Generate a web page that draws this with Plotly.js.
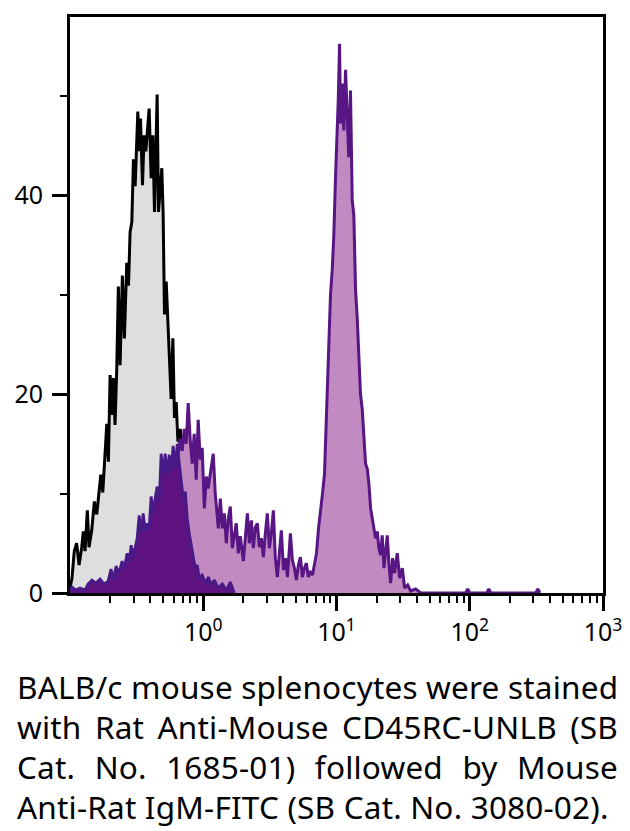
<!DOCTYPE html>
<html>
<head>
<meta charset="utf-8">
<script src="https://cdn.plot.ly/plotly-3.0.1.min.js"></script>
<style>
  html, body { margin: 0; padding: 0; background: #fff; }
  #wrap { position: relative; width: 630px; height: 831px; overflow: hidden; }
  #chart { position: absolute; left: 0; top: 0; width: 630px; height: 660px; }
  #caption { position: absolute; left: 17px; top: 667px; width: 601px;
    font-family: "Noto Sans", "Open Sans", sans-serif; font-size: 31.5px; line-height: 40px; color: #000; letter-spacing: 0.2px; }
  #caption div { white-space: nowrap; }
  #caption .j { text-align: justify; text-align-last: justify; }
</style>
</head>
<body>
<div id="wrap">
  <div id="chart"></div>
  <div id="caption">
    <div class="j">BALB/c mouse splenocytes were stained</div>
    <div class="j">with Rat Anti-Mouse CD45RC-UNLB (SB</div>
    <div class="j">Cat. No. 1685-01) followed by Mouse</div>
    <div>Anti-Rat IgM-FITC (SB Cat. No. 3080-02).</div>
  </div>
</div>
<script>
// Control (unstained) histogram: log10 intensity and counts
const greyLogX = [-1.000,-0.985,-0.968,-0.950,-0.932,-0.912,-0.900,-0.887,-0.870,-0.857,-0.837,-0.817,-0.799,-0.787,-0.769,-0.754,-0.737,-0.724,-0.712,-0.699,-0.686,-0.674,-0.662,-0.649,-0.637,-0.624,-0.607,-0.592,-0.574,-0.561,-0.549,-0.536,-0.524,-0.511,-0.491,-0.481,-0.471,-0.456,-0.444,-0.431,-0.416,-0.406,-0.391,-0.378,-0.366,-0.356,-0.346,-0.336,-0.323,-0.311,-0.301,-0.291,-0.278,-0.266,-0.253,-0.241,-0.228,-0.216,-0.203,-0.190,-0.173,-0.158,-0.135,-0.113,-0.090,-0.060,-0.023,0.023,0.068,0.113];
const greyCount = [0.5,1.5,4.2,5.0,2.8,4.6,6.2,4.2,8.3,4.6,6.3,9.2,7.9,9.6,11.9,10.1,13.5,17.0,13.2,21.9,17.9,21.6,16.9,22.6,30.8,22.9,31.9,25.6,33.2,30.9,36.3,37.3,43.6,40.9,48.4,44.4,47.7,41.0,46.0,44.4,47.0,48.7,41.7,46.0,38.3,43.0,50.1,38.3,41.0,42.7,38.0,28.0,31.3,27.6,22.6,19.5,25.6,17.6,19.2,15.2,16.5,14.5,12.0,9.0,6.0,4.0,2.0,0.8,0.2,0];

// CD45RC stained sample: log10 intensity and counts
const stainLogX = [-1.000,-0.925,-0.850,-0.774,-0.699,-0.624,-0.549,-0.474,-0.398,-0.338,-0.286,-0.248,-0.211,-0.188,-0.173,-0.158,-0.143,-0.128,-0.113,-0.098,-0.083,-0.068,-0.053,-0.038,-0.023,-0.008,0.008,0.023,0.038,0.053,0.075,0.090,0.113,0.128,0.143,0.158,0.173,0.188,0.203,0.218,0.233,0.248,0.263,0.278,0.301,0.316,0.331,0.346,0.361,0.376,0.391,0.406,0.421,0.436,0.451,0.466,0.481,0.496,0.511,0.526,0.541,0.556,0.571,0.586,0.602,0.617,0.632,0.647,0.654,0.669,0.684,0.699,0.714,0.729,0.744,0.759,0.774,0.789,0.805,0.820,0.835,0.850,0.865,0.880,0.895,0.910,0.921,0.932,0.944,0.955,0.968,0.980,0.992,1.005,1.013,1.023,1.030,1.043,1.055,1.068,1.080,1.092,1.105,1.118,1.130,1.143,1.156,1.168,1.180,1.193,1.205,1.218,1.231,1.243,1.256,1.268,1.280,1.293,1.306,1.318,1.331,1.343,1.356,1.368,1.381,1.393,1.406,1.421,1.436,1.456,1.474,1.494,1.511,1.534,1.556,1.594,1.632,1.970,1.985,2.000,2.128,2.143,2.158,2.496,2.511,2.526];
const stainCount = [0.2,0.3,0.2,0.5,0.8,1.2,2.0,3.5,5.5,8.0,10.0,11.0,12.0,14.0,15.5,14.3,16.5,15.0,19.1,15.4,13.0,16.0,11.4,17.4,13.4,14.6,8.5,11.7,10.5,12.0,14.0,10.0,6.5,9.5,6.5,8.0,5.0,7.5,8.7,4.5,6.0,7.0,4.0,5.7,3.2,6.0,8.0,5.0,7.3,4.5,6.6,7.0,4.6,5.5,3.6,6.0,8.0,4.5,6.0,8.3,3.5,1.6,4.5,6.3,2.3,3.5,1.6,4.5,6.0,3.3,2.5,1.3,2.8,3.6,1.6,2.5,3.0,1.6,2.2,1.8,3.0,4.0,6.5,8.0,10.0,12.0,16.5,20.0,26.0,30.0,32.5,36.0,41.5,45.5,49.5,55.2,47.2,51.2,46.5,52.6,48.0,43.8,50.5,39.5,38.0,30.5,27.5,24.0,20.0,18.5,15.5,13.0,12.5,11.0,8.5,7.5,6.8,5.5,6.2,4.5,3.8,5.8,2.5,4.5,5.8,3.0,1.0,3.5,2.0,4.0,1.5,2.5,0.5,0.8,0.2,0.4,0,0,0.4,0,0,0.4,0,0,0.4,0];

// Negative (CD45RC-low) population: log10 intensity and counts
const negLogX = [-1.000,-0.985,-0.955,-0.925,-0.887,-0.865,-0.835,-0.805,-0.774,-0.744,-0.714,-0.692,-0.677,-0.654,-0.632,-0.609,-0.594,-0.571,-0.556,-0.541,-0.526,-0.511,-0.496,-0.481,-0.466,-0.451,-0.436,-0.421,-0.406,-0.391,-0.376,-0.361,-0.346,-0.331,-0.316,-0.301,-0.286,-0.271,-0.256,-0.241,-0.226,-0.211,-0.195,-0.180,-0.165,-0.150,-0.135,-0.120,-0.105,-0.090,-0.075,-0.060,-0.045,-0.030,-0.008,0.015,0.038,0.060,0.083,0.113,0.143,0.173,0.203,0.233];
const negCount = [0.3,0.6,0.3,0.5,0.3,0.9,1.3,1.0,1.4,0.9,1.2,2.4,1.3,2.7,2.0,3.2,2.4,4.0,3.1,4.8,3.7,4.6,5.5,7.8,6.0,8.0,6.3,7.0,6.5,9.7,8.0,9.5,10.7,9.0,14.0,12.0,14.0,11.8,13.9,12.2,14.8,12.6,15.0,13.0,11.0,9.5,10.2,7.5,6.0,4.8,3.5,2.5,2.8,1.5,1.8,1.0,1.6,0.8,1.3,0.5,0.9,0.3,1.1,0];

const majorTickVals = [1, 10, 100, 1000];
const majorTickText = ['10<sup>0</sup>', '10<sup>1</sup>', '10<sup>2</sup>', '10<sup>3</sup>'];
const minorTickVals = [0.2,0.3,0.4,0.5,0.6,0.7,0.8,0.9,2,3,4,5,6,7,8,9,20,30,40,50,60,70,80,90,200,300,400,500,600,700,800,900];
const yTickVals = [0, 20, 40];
const yMinorVals = [10, 30, 50];

const toLin = arr => arr.map(l => Math.pow(10, l));

const traces = [
  { x: toLin(greyLogX), y: greyCount, type: 'scatter', mode: 'lines', fill: 'tozeroy',
    fillcolor: '#dedede', line: { color: '#000000', width: 3 }, hoverinfo: 'skip' },
  { x: toLin(stainLogX), y: stainCount, type: 'scatter', mode: 'lines', fill: 'tozeroy',
    fillcolor: '#c18bc1', line: { color: '#581584', width: 3 }, hoverinfo: 'skip' },
  { x: toLin(negLogX), y: negCount, type: 'scatter', mode: 'lines', fill: 'tozeroy',
    fillcolor: '#5f1380', line: { color: '#471a88', width: 2.8 }, hoverinfo: 'skip' }
];

const tickFont = { family: 'Noto Sans, Open Sans, sans-serif', size: 25, color: '#000' };

const layout = {
  width: 630, height: 660,
  margin: { l: 70, r: 27, t: 17, b: 67 },
  paper_bgcolor: '#fff', plot_bgcolor: '#fff',
  showlegend: false,
  xaxis: {
    type: 'log', range: [-1, 3], showgrid: false, zeroline: false,
    showline: true, linecolor: '#000', linewidth: 3, mirror: true,
    ticks: 'outside', ticklen: 15, tickwidth: 3, tickcolor: '#000',
    tickmode: 'array', tickvals: majorTickVals, ticktext: majorTickText,
    tickfont: tickFont, ticklabelstandoff: 0,
    minor: { tickmode: 'array', tickvals: minorTickVals, ticks: 'outside', ticklen: 7, tickwidth: 2, tickcolor: '#000', showgrid: false }
  },
  yaxis: {
    range: [0, 57.9], showgrid: false, zeroline: false,
    showline: true, linecolor: '#000', linewidth: 3, mirror: true,
    ticks: 'outside', ticklen: 15, tickwidth: 3, tickcolor: '#000',
    tickmode: 'array', tickvals: yTickVals, ticktext: yTickVals.map(String),
    tickfont: tickFont, ticklabelstandoff: 4,
    minor: { tickmode: 'array', tickvals: yMinorVals, ticks: 'outside', ticklen: 7, tickwidth: 2, tickcolor: '#000', showgrid: false }
  }
};

Plotly.newPlot('chart', traces, layout, { staticPlot: true, displayModeBar: false });
</script>
</body>
</html>
